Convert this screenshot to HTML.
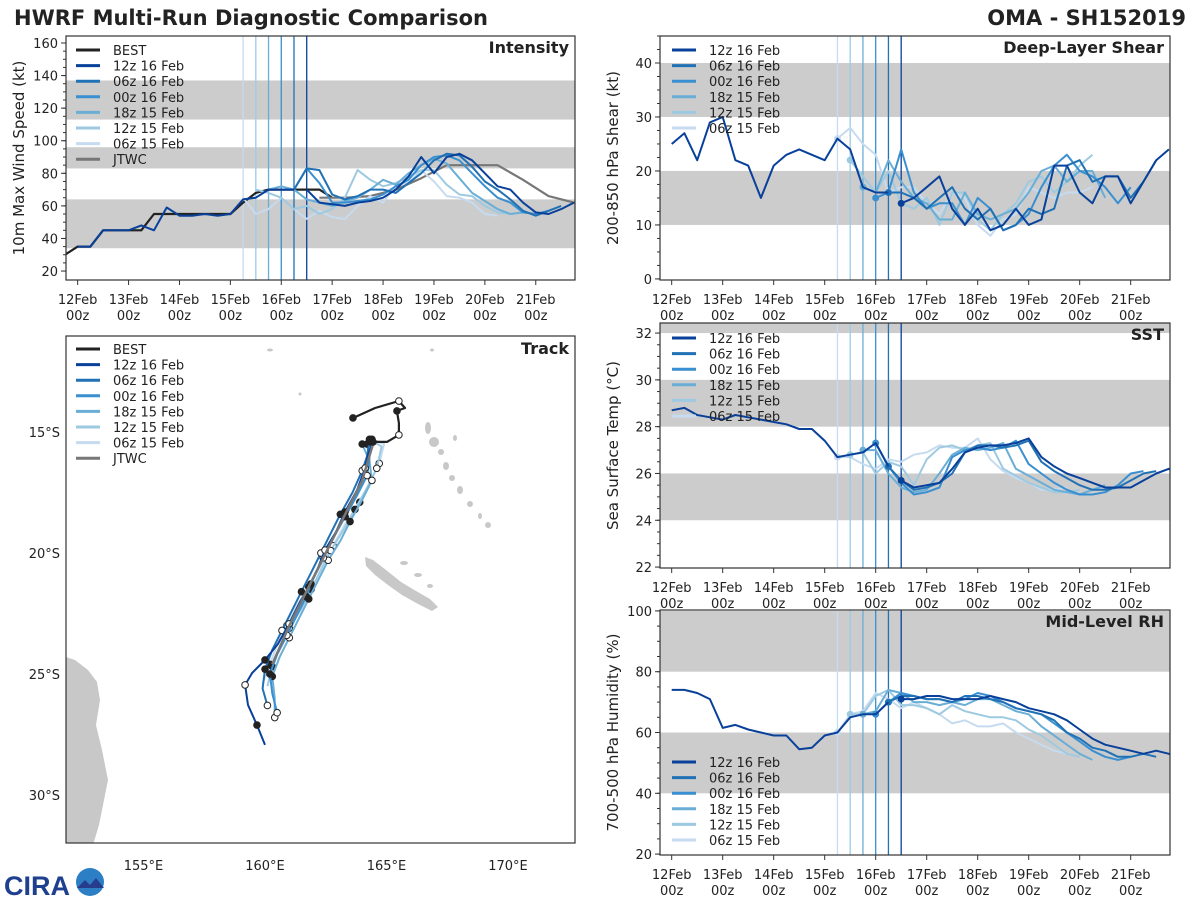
<!DOCTYPE html>
<html><head><meta charset="utf-8"><style>
body{margin:0;background:#fff;}
svg{display:block;font-family:"DejaVu Sans","Liberation Sans",sans-serif;}
</style></head><body>
<svg id="c" width="1200" height="900" viewBox="0 0 1200 900">
<text x="14" y="25" font-size="21" font-weight="bold" fill="#222">HWRF Multi-Run Diagnostic Comparison</text>
<text x="1186" y="25" font-size="21" font-weight="bold" fill="#222" text-anchor="end">OMA - SH152019</text>
<g>
<text x="4" y="895" font-size="27" font-weight="bold" fill="#1f3f8f" font-family="Liberation Sans,sans-serif">CIRA</text>
<circle cx="90" cy="882" r="14" fill="#2c7fc4"/>
<path d="M77,888 L85,880 L90,885 L96,878 L104,888 Z" fill="#283c8c"/>
</g>
</svg>
<script>
// ---------- data ----------
const runNames = ["12z 16 Feb","06z 16 Feb","00z 16 Feb","18z 15 Feb","12z 15 Feb","06z 15 Feb"];
const runInits = [108,102,96,90,84,78];
const runColors = ["#08409a","#2171b5","#3a8fd0","#6aaed6","#9ecae1","#c6dbef"];
const dayLabels = ["12Feb","13Feb","14Feb","15Feb","16Feb","17Feb","18Feb","19Feb","20Feb","21Feb"];
const bestStart = -6;
const bestVmax = [30,35,35,45,45,45,45,55,55,55,55,55,55,55,62,68,70,70,70,70,70,65];
const jtwcStart = 114;
const jtwcVmax = [65,65,66,70,77,85,85,85,76,66,62,58,55];
const histVmax = [35,35,45,45,45,48,45,59,54,54,55,54,55,64,65,70,70,70];
const vmaxRuns = [
 [70,62,61,60,62,63,65,70,78,90,80,90,92,88,80,72,70,62,56,55,58,62],
 [70,83,82,67,64,66,70,70,68,74,80,88,92,91,84,75,70,64,57,54,57,60],
 [70,70,83,74,62,62,63,64,67,72,76,85,90,91,88,80,72,65,62,56,55,57],
 [70,72,70,64,62,60,63,65,70,76,73,80,85,89,86,77,68,63,58,55,56],
 [70,68,65,58,60,55,58,65,82,76,72,74,78,82,82,73,67,66,60,56,55],
 [65,55,58,65,58,52,57,53,52,60,66,62,73,74,82,75,66,65,62,55,54]];
const histShear = [25,27,22,29,30,22,21,15,21,23,24,23,22,26,24,17,16,16];
const shearRuns = [
 [14,15,17,19,13,10,13,9,10,13,10,11,21,21,16,14,19,19,14,18,22,24],
 [16,16,15,13,15,17,13,11,13,9,10,13,12,13,21,22,18,19,19,15,18,22],
 [15,16,24,16,13,14,14,10,15,13,9,10,12,17,21,23,20,19,17,14,17],
 [17,16,22,18,15,14,11,11,16,12,11,12,13,16,20,21,18,20,20,15],
 [22,19,16,20,14,13,15,10,16,16,11,9,12,14,18,19,16,18,21,23],
 [26,28,25,23,16,17,17,14,12,16,15,10,8,11,12,17,16,15,16,16,17]];
const histSst = [28.7,28.8,28.5,28.4,28.3,28.5,28.4,28.3,28.2,28.1,27.9,27.9,27.4,26.7,26.8,26.9,27.3,26.3];
const sstRuns = [
 [25.7,25.4,25.5,25.6,26.2,26.9,27.1,27.2,27.2,27.3,27.5,26.7,26.3,26.0,25.8,25.6,25.4,25.4,25.4,25.7,26.0,26.2,25.8],
 [26.3,25.7,25.3,25.4,25.6,26.0,26.9,27.2,27.2,27.1,27.2,27.4,26.5,26.1,25.8,25.5,25.3,25.3,25.4,25.7,26.0,26.1],
 [27.3,26.3,25.6,25.1,25.2,25.4,26.7,27.0,27.1,27.0,27.1,27.4,26.4,26.0,25.6,25.3,25.1,25.1,25.2,25.5,26.0,26.1],
 [27.0,27.0,26.0,25.4,25.2,25.3,26.0,26.8,27.1,27.0,27.1,27.3,26.2,25.9,25.6,25.3,25.2,25.1,25.3,25.5],
 [26.8,26.9,26.0,26.5,26.3,25.5,26.6,27.1,27.2,27.0,27.2,27.3,26.2,25.9,25.6,25.4,25.2,25.2,25.3],
 [26.7,26.7,26.4,26.2,26.6,26.5,26.8,26.9,27.2,27.1,27.1,27.5,26.6,26.1,25.8,25.6,25.3,25.3,25.4]];
const histRh = [74,74,73,71,61.5,62.5,61,60,59,59,54.5,55,59,60,65,66,66,70];
const rhRuns = [
 [71,71,72,72,71,71,71,72,71,70,68,67,66,64,61,58,56,55,54,53,54,53,51],
 [70,72,72,71,71,70,72,72,71,70,68,67,66,64,60,58,55,54,52,52,53,52],
 [66,70,73,72,71,71,70,71,73,72,70,68,67,66,63,60,57,54,52,51,52],
 [66,67,74,73,70,70,69,70,69,71,71,69,67,66,62,59,56,53,51],
 [66,66,72,74,69,69,68,66,69,67,66,65,65,64,61,59,56,53,52],
 [60,66,67,73,71,68,70,68,66,63,64,62,62,63,60,58,56,54,53]];
const bestTrack = [[163.62,-14.42],[164.53,-14.01],[165.51,-13.72],[165.76,-14.01],[165.43,-14.13],[165.51,-14.63],[165.51,-15.12],[165.02,-15.41],[164.44,-15.41]];
const jtwcTrack = [[164.5,-15.3],[164.0,-17.0],[163.0,-19.0],[162.0,-21.0],[161.0,-23.0],[160.3,-24.6]];
const trackRuns = [
 [[164.44,-15.41],[164.24,-15.95],[164.12,-16.49],[163.79,-17.4],[163.29,-18.31],[162.92,-19.13],[162.47,-19.88],[162.18,-20.62],[161.89,-21.28],[161.44,-22.02],[160.99,-22.93],[160.53,-23.76],[160.0,-24.42],[159.47,-24.96],[159.18,-25.45],[159.3,-26.28],[159.67,-27.11],[160.0,-27.93]],
 [[164.3,-15.4],[164.2,-16.0],[164.0,-16.6],[163.6,-17.5],[163.1,-18.4],[162.7,-19.2],[162.3,-20.0],[161.9,-20.8],[161.5,-21.6],[161.1,-22.4],[160.7,-23.2],[160.3,-24.0],[160.0,-24.8],[159.9,-25.6],[160.1,-26.3]],
 [[164.2,-15.5],[164.3,-16.1],[164.2,-16.8],[163.8,-17.6],[163.3,-18.5],[162.8,-19.4],[162.4,-20.2],[162.0,-21.0],[161.7,-21.8],[161.3,-22.6],[160.9,-23.4],[160.5,-24.2],[160.2,-25.0],[160.3,-25.8],[160.5,-26.6]],
 [[164.0,-15.5],[164.3,-16.2],[164.4,-17.0],[164.0,-17.8],[163.5,-18.7],[163.1,-19.5],[162.6,-20.3],[162.2,-21.1],[161.8,-21.9],[161.4,-22.7],[161.0,-23.5],[160.6,-24.3],[160.3,-25.1],[160.4,-26.0],[160.4,-26.8]],
 [[164.3,-15.3],[164.8,-15.6],[164.6,-16.5],[164.2,-17.3],[163.7,-18.2],[163.2,-19.1],[162.7,-19.9],[162.3,-20.7],[161.9,-21.5],[161.5,-22.3],[161.0,-23.1],[160.6,-23.9],[160.3,-24.7],[160.1,-25.5]],
 [[164.4,-15.3],[164.9,-15.5],[164.7,-16.3],[164.3,-17.1],[163.9,-17.9],[163.3,-18.8],[162.8,-19.7],[162.3,-20.5],[161.8,-21.4],[161.3,-22.2],[160.9,-23.0],[160.5,-23.8],[160.2,-24.6],[159.9,-25.4]]];

// ---------- helpers ----------
const NS = "http://www.w3.org/2000/svg";
const svg = document.getElementById("c");
function mk(tag, attrs, parent){
  const e = document.createElementNS(NS, tag);
  for (const k in attrs) e.setAttribute(k, attrs[k]);
  (parent||svg).appendChild(e);
  return e;
}
function txt(s, attrs, parent){ const e = mk("text", attrs, parent); e.textContent = s; return e; }

function panel(cfg){
  const g = mk("g", {});
  
  
  const X = h => cfg.x0 + (h + 5.5) * (cfg.x1 - cfg.x0) / 240;
  const Y = v => cfg.y1 - (v - cfg.ymin) * (cfg.y1 - cfg.y0) / (cfg.ymax - cfg.ymin);
  const clipId = cfg.name + "-clip";
  const cp = mk("clipPath", {id: clipId}, g);
  mk("rect", {x: cfg.x0, y: cfg.y0, width: cfg.x1 - cfg.x0, height: cfg.y1 - cfg.y0}, cp);
  const inner = mk("g", {"clip-path": "url(#" + clipId + ")"}, g);
  cfg.bands.forEach(b => {
    const r = mk("rect", {x: cfg.x0, y: Y(b[1]), width: cfg.x1 - cfg.x0, height: Y(b[0]) - Y(b[1]), fill: "#cccccc"}, inner);
    
    
  });
  // vertical init lines
  runInits.forEach((h, i) => {
    const l = mk("line", {x1: X(h), x2: X(h), y1: cfg.y0, y2: cfg.y1, stroke: runColors[i], "stroke-width": 1.3}, inner);
    
    
  });
  // axes frame
  const fr = mk("rect", {x: cfg.x0, y: cfg.y0, width: cfg.x1 - cfg.x0, height: cfg.y1 - cfg.y0, fill: "none", stroke: "#333", "stroke-width": 1.2}, g);
  
  
  // y ticks
  cfg.yticks.forEach(v => {
    mk("line", {x1: cfg.x0 - 5, x2: cfg.x0, y1: Y(v), y2: Y(v), stroke: "#333"}, g);
    const t = txt(String(v), {x: cfg.x0 - 8, y: Y(v) + 5, "font-size": 13, "text-anchor": "end", fill: "#222"}, g);
    
    
  });
  for (let v = cfg.yticks[0]; v <= cfg.ymax; v += cfg.minor) {
    if (v >= cfg.ymin) mk("line", {x1: cfg.x0 - 3, x2: cfg.x0, y1: Y(v), y2: Y(v), stroke: "#333"}, g);
  }
  // x ticks
  dayLabels.forEach((d, i) => {
    const x = X(i * 24);
    mk("line", {x1: x, x2: x, y1: cfg.y1, y2: cfg.y1 + 5, stroke: "#333"}, g);
    const t1 = txt(d, {x: x, y: cfg.y1 + 24, "font-size": 13, "text-anchor": "middle", fill: "#222"}, g);
    
    
    const t2 = txt("00z", {x: x, y: cfg.y1 + 40, "font-size": 13, "text-anchor": "middle", fill: "#222"}, g);
    
    
  });
  const cy = (cfg.y0 + cfg.y1) / 2;
  const yl = txt(cfg.ylabel, {x: cfg.x0 - 42, y: cy, "font-size": 15, "text-anchor": "middle", fill: "#222", transform: "rotate(-90 " + (cfg.x0 - 42) + " " + cy + ")"}, g);
  
  
  const tt = txt(cfg.title, {x: cfg.x1 - 6, y: cfg.y0 + 17, "font-size": 16, "font-weight": "bold", "text-anchor": "end", fill: "#222"}, g);
  
  
  return {g, inner, X, Y};
}

function series(p, start, vals, step, color, width, name, dotAtStart){
  const pts = vals.map((v, i) => p.X(start + i * step).toFixed(1) + "," + p.Y(v).toFixed(1)).join(" ");
  const pl = mk("polyline", {points: pts, fill: "none", stroke: color, "stroke-width": width, "stroke-linejoin": "round"}, p.inner);
  
  
  if (dotAtStart) {
    const c = mk("circle", {cx: p.X(start), cy: p.Y(vals[0]), r: 3.5, fill: color}, p.inner);
    
    
  }
}

function legend(x, y, entries){
  const g = mk("g", {});
  
  
  entries.forEach((e, i) => {
    const yy = y + i * 15.6;
    mk("line", {x1: x, x2: x + 24, y1: yy, y2: yy, stroke: e[1], "stroke-width": 3}, g);
    const t = txt(e[0], {x: x + 37, y: yy + 5, "font-size": 13, fill: "#222"}, g);
    
    
  });
}

const runEntries = runNames.map((n, i) => [n, runColors[i]]);
const fullEntries = [["BEST", "#222"]].concat(runEntries, [["JTWC", "#777"]]);

// ---------- intensity ----------
const pI = panel({name: "intensity-panel", x0: 66, x1: 575, y0: 36, y1: 280, ymin: 14.5, ymax: 164.3,
  bands: [[34, 64], [83, 96], [113, 137]], yticks: [20, 40, 60, 80, 100, 120, 140, 160], minor: 5,
  ylabel: "10m Max Wind Speed (kt)", title: "Intensity"});
series(pI, bestStart, bestVmax, 6, "#222", 2.2, "best-intensity-line");
series(pI, jtwcStart, jtwcVmax, 12, "#777", 2.2, "jtwc-intensity-line");
for (let i = 5; i >= 0; i--) {
  series(pI, runInits[i], vmaxRuns[i], 6, runColors[i], 2, "run-" + i + "-intensity-line");
}
series(pI, 0, histVmax, 6, runColors[0], 2, "run-0-history-intensity-line");
legend(76, 50, fullEntries);

// ---------- shear ----------
const pS = panel({name: "shear-panel", x0: 660, x1: 1170, y0: 36, y1: 280, ymin: -0.2, ymax: 45,
  bands: [[10, 20], [30, 40]], yticks: [0, 10, 20, 30, 40], minor: 2.5,
  ylabel: "200-850 hPa Shear (kt)", title: "Deep-Layer Shear"});
for (let i = 5; i >= 0; i--) series(pS, runInits[i], shearRuns[i], 6, runColors[i], 2, "run-" + i + "-shear-line", true);
series(pS, 0, histShear, 6, runColors[0], 2, "shear-history-line");
legend(672, 50, runEntries);

// ---------- SST ----------
const pT = panel({name: "sst-panel", x0: 660, x1: 1170, y0: 323, y1: 568, ymin: 21.96, ymax: 32.43,
  bands: [[24, 26], [28, 30], [32, 34]], yticks: [22, 24, 26, 28, 30, 32], minor: 0.5,
  ylabel: "Sea Surface Temp (°C)", title: "SST"});
for (let i = 5; i >= 0; i--) series(pT, runInits[i], sstRuns[i], 6, runColors[i], 2, "run-" + i + "-sst-line", true);
series(pT, 0, histSst, 6, runColors[0], 2, "sst-history-line");
legend(672, 338, runEntries);

// ---------- RH ----------
const pR = panel({name: "rh-panel", x0: 660, x1: 1170, y0: 610, y1: 855, ymin: 19.7, ymax: 100.3,
  bands: [[40, 60], [80, 100]], yticks: [20, 40, 60, 80, 100], minor: 5,
  ylabel: "700-500 hPa Humidity (%)", title: "Mid-Level RH"});
for (let i = 5; i >= 0; i--) series(pR, runInits[i], rhRuns[i], 6, runColors[i], 2, "run-" + i + "-rh-line", true);
series(pR, 0, histRh, 6, runColors[0], 2, "rh-history-line");
legend(672, 762, runEntries);

// ---------- track ----------
(function(){
  const x0 = 66, x1 = 575, y0 = 336, y1 = 843;
  const LX = lon => 265 + (lon - 160) * 24.3;
  const LY = lat => 432 + (-lat - 15) * 24.2;
  const g = mk("g", {});
  
  
  const cp = mk("clipPath", {id: "track-clip"}, g);
  mk("rect", {x: x0, y: y0, width: x1 - x0, height: y1 - y0}, cp);
  const inner = mk("g", {"clip-path": "url(#track-clip)"}, g);
  const land = mk("g", {fill: "#c8c8c8"}, inner);
  
  
  mk("path", {d: "M60,655 L75,660 L88,670 L97,682 L100,700 L96,725 L102,750 L108,780 L104,800 L99,825 L93,845 L60,845 Z"}, land);
  mk("path", {d: "M365,557 L373,560 L386,570 L401,582 L416,591 L430,599 L438,607 L432,611 L418,604 L402,595 L388,585 L375,575 L366,566 Z"}, land);
  [[404,563,4,2],[418,575,4,2],[430,586,3,2],[428,428,3,6],[434,442,5,5],[441,452,3,3],[446,466,3,4],[452,478,3,3],[460,490,3,4],[470,504,3,3],[480,516,2,3],[488,525,3,3],[270,350,3,1.5],[432,350,2,1.5],[300,394,1.5,1.5],[455,438,2,3]].forEach(e => {
    mk("ellipse", {cx: e[0], cy: e[1], rx: e[2], ry: e[3]}, land);
  });
  function trk(pts, color, w, name, dots){
    const pl = mk("polyline", {points: pts.map(p => LX(p[0]).toFixed(1) + "," + LY(p[1]).toFixed(1)).join(" "), fill: "none", stroke: color, "stroke-width": w, "stroke-linejoin": "round"}, inner);
    
    
    if (dots) pts.forEach((p, i) => {
      if (i % 2 === 1) return;
      const c = mk("circle", {cx: LX(p[0]), cy: LY(p[1]), r: 3.3, fill: (i % 4 === 0) ? "#222" : "#fff", stroke: "#222", "stroke-width": 1}, inner);
      
      
    });
  }
  for (let i = 5; i >= 0; i--) trk(trackRuns[i], runColors[i], 2, "run-" + i + "-track", true);
  trk(jtwcTrack, "#777", 2.5, "jtwc-track", false);
  trk(bestTrack, "#222", 2.2, "best-track", true);
  const fr = mk("rect", {x: x0, y: y0, width: x1 - x0, height: y1 - y0, fill: "none", stroke: "#333", "stroke-width": 1.2}, g);
  
  
  [155, 160, 165, 170].forEach(lon => {
    const t = txt(lon + "°E", {x: LX(lon), y: 870, "font-size": 13, "text-anchor": "middle", fill: "#222"}, g);
    
    
  });
  [15, 20, 25, 30].forEach(lat => {
    const t = txt(lat + "°S", {x: 60, y: LY(-lat) + 5, "font-size": 13, "text-anchor": "end", fill: "#222"}, g);
    
    
  });
  const tt = txt("Track", {x: x1 - 6, y: y0 + 18, "font-size": 16, "font-weight": "bold", "text-anchor": "end", fill: "#222"}, g);
  
  
  legend(76, 349, fullEntries);
})();
</script>
</body></html>
